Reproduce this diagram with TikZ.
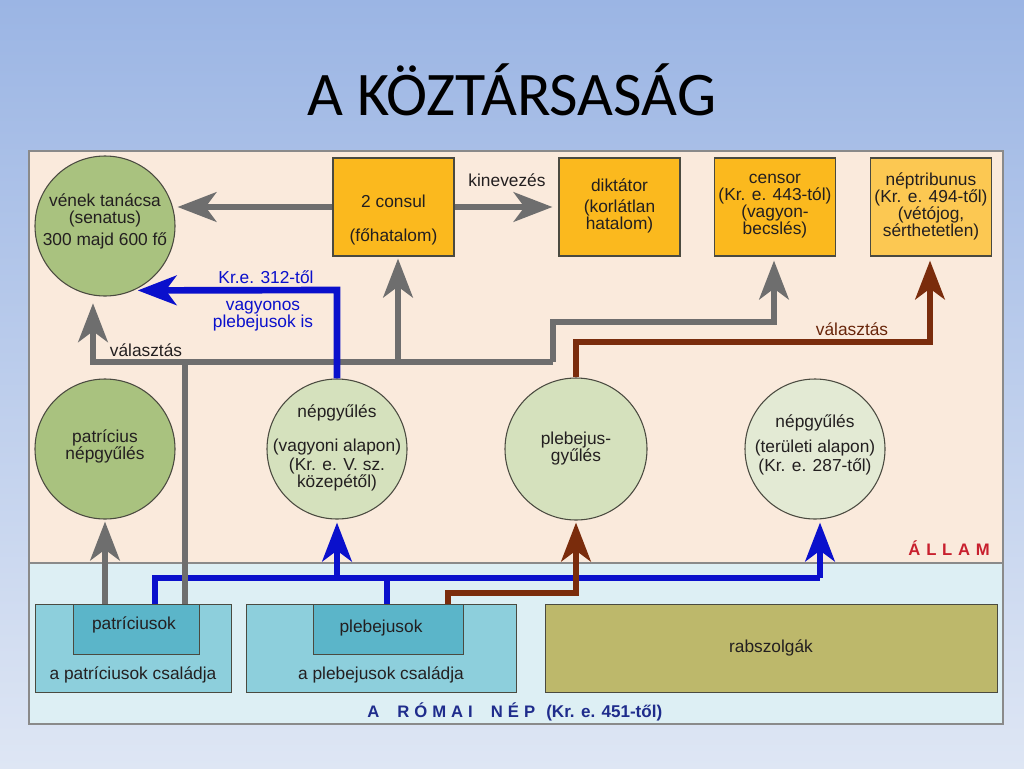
\documentclass[tikz,border=0pt]{standalone}
\usepackage{fontspec}
\setmainfont{Liberation Sans}
\newfontfamily\titlefont{Carlito}
\usetikzlibrary{arrows.meta}
\definecolor{bgtop}{RGB}{155,181,228}
\definecolor{bgbot}{RGB}{222,230,244}
\definecolor{peach}{HTML}{FAEADC}
\definecolor{lightb}{HTML}{DDEFF4}
\definecolor{panelc}{HTML}{8A8A8A}
\definecolor{outc}{HTML}{4A4A40}
\definecolor{txtc}{HTML}{231F20}
\definecolor{grayc}{HTML}{6E6E6E}
\definecolor{bluec}{HTML}{0A10CC}
\definecolor{brownc}{HTML}{7A2C0C}
\definecolor{amber}{HTML}{FBB91E}
\definecolor{amberlt}{HTML}{FCC852}
\definecolor{greendk}{HTML}{A9C27F}
\definecolor{greenlt}{HTML}{D5E1BD}
\definecolor{greenxl}{HTML}{E3EAD4}
\definecolor{tealo}{HTML}{8DCFDC}
\definecolor{teali}{HTML}{5BB5C9}
\definecolor{olive}{HTML}{BDB86B}
\definecolor{allamred}{HTML}{C8202E}
\definecolor{romblue}{HTML}{1F2C8C}
\newcommand\lsp{\hspace{3.75pt}}
\newcommand\wsp{\hspace{13.5pt}}
\newcommand\alsp{\hspace{4.3pt}}
\tikzset{
  txt/.style={font=\fontsize{13}{12.75}\selectfont, text=txtc, align=center, inner sep=0pt},
  circ/.style={circle, draw=outc, line width=0.8pt, minimum size=105pt, inner sep=0pt},
  obox/.style={draw=outc, line width=0.8pt, fill=amber, minimum width=90.75pt, minimum height=73.5pt, inner sep=0pt},
  fbox/.style={draw=outc, line width=0.7pt, inner sep=0pt},
  conn/.style={line width=5pt, line join=miter},
  ahead/.style={-{Stealth[length=29pt,width=22pt,inset=8pt]}},
  gline/.style={conn, draw=grayc},
  garr/.style={gline, ahead},
  bline/.style={conn, draw=bluec},
  barr/.style={bline, ahead},
  rline/.style={conn, draw=brownc},
  rarr/.style={rline, ahead},
}
\begin{document}
\begin{tikzpicture}[x=0.75pt,y=-0.75pt]
\useasboundingbox (0,0) rectangle (1024,768);
\shade[top color=bgtop, bottom color=bgbot] (0,0) rectangle (1024,768);

\node[font=\titlefont\fontsize{46.5}{50}\selectfont, anchor=base, text=black] (title) at (512,115) {A KÖZTÁRSASÁG};

% panel
\fill[peach] (29,151) rectangle (1003,563);
\fill[lightb] (29,563) rectangle (1003,724);
\draw[panelc, line width=0.8pt] (29,563) -- (1003,563);
\draw[panelc, line width=1.2pt] (29,151) rectangle (1003,724);

% top row
\node[circ, fill=greendk] (sen) at (105,226) {};
\node[txt] (senT) at (105,221.5) {vének tanácsa\\(senatus)\\[3.75pt]300 majd 600 fő};
\node[obox] (consul) at (393.5,207) {};
\node[txt] (consulT) at (393.5,220) {2 consul\\[12.75pt](főhatalom)};
\node[obox] (dikt) at (619.5,207) {};
\node[txt] (diktT) at (619.5,206) {diktátor\\[3pt](korlátlan\\hatalom)};
\node[obox] (censor) at (775,207) {};
\node[txt] (censorT) at (775,206) {censor\\(Kr. e. 443-tól)\\(vagyon-\\becslés)};
\node[obox, fill=amberlt] (neptr) at (931,207) {};
\node[txt] (neptrT) at (931,206) {néptribunus\\(Kr. e. 494-től)\\(vétójog,\\sérthetetlen)};

% middle row
\node[circ, fill=greendk] (pnp) at (105,449) {};
\node[txt] (pnpT) at (105,446) {patrícius\\népgyűlés};
\node[circ, fill=greenlt] (nv) at (337,449) {};
\node[txt] (nvT) at (337,448) {népgyűlés\\[12.75pt](vagyoni alapon)\\[1.5pt](Kr. e. V. sz.\\közepétől)};
\node[circ, fill=greenlt, minimum size=106.5pt] (pg) at (576,449) {};
\node[txt] (pgT) at (576,448.5) {plebejus-\\gyűlés};
\node[circ, fill=greenxl] (nt) at (815,449) {};
\node[txt] (ntT) at (815,445) {népgyűlés\\[6pt](területi alapon)\\[1.5pt](Kr. e. 287-től)};

% bottom boxes
\node[fbox, fill=tealo, minimum width=147pt, minimum height=66pt] (patfam) at (133,648) {};
\node[fbox, fill=teali, minimum width=94.5pt, minimum height=37.5pt] (patin) at (136,629) {};
\node[txt] (patinT) at (134,625) {patríciusok};
\node[txt] (patfamT) at (133,675) {a patríciusok családja};
\node[fbox, fill=tealo, minimum width=202.5pt, minimum height=66pt] (plebfam) at (381,648) {};
\node[fbox, fill=teali, minimum width=112.5pt, minimum height=37.5pt] (plebin) at (388,629) {};
\node[txt] (plebinT) at (381,628) {plebejusok};
\node[txt] (plebfamT) at (381,675) {a plebejusok családja};
\node[fbox, fill=olive, minimum width=339pt, minimum height=66pt] (rab) at (771,648) {};
\node[txt] (rabT) at (771,648) {rabszolgák};

% section labels
\node[anchor=base east, inner sep=0pt, text=allamred, font=\bfseries\fontsize{12.5}{12.5}\selectfont] (allam) at (990,555) {Á\alsp L\alsp L\alsp A\alsp M};
\node[anchor=base west, inner sep=0pt, text=romblue, font=\bfseries\fontsize{12.5}{12.5}\selectfont] (nep) at (367,717) {A\wsp R\lsp Ó\lsp M\lsp A\lsp I\wsp N\lsp É\lsp P};
\node[anchor=base west, inner sep=0pt, text=romblue, font=\bfseries\fontsize{12.8}{13}\selectfont] (nepdate) at (546,717) {(Kr. e. 451-től)};

% coordinates
\coordinate (g1) at (93,362);
\coordinate (g2) at (553,362);
\coordinate (g3) at (553,322);
\coordinate (g4) at (774,322);
\coordinate (gp) at (185,362);
\coordinate (gc) at (398,362);
\coordinate (b1) at (337,290);
\coordinate (bb1) at (155,578);
\coordinate (bb2) at (820,578);
\coordinate (bp) at (387,578);
\coordinate (r1) at (448,593);
\coordinate (r2) at (576,593);
\coordinate (r3) at (576,342);
\coordinate (r4) at (930,342);

% blue bus (below gray and brown)
\draw[bline] (bb1 |- patfam.north) -- (bb1) -- (bb2);
\draw[barr, shorten >=2.25pt] (bb2) -- (bb2 |- nt.south);
\draw[barr, shorten >=2.25pt] (bb1 -| nv.south) -- (nv.south);
\draw[bline] (bp |- plebin.north) -- (bp);

% gray
\draw[garr, shorten >=1.5pt] (consul.west) -- (sen.east |- consul.west);
\draw[garr, shorten >=4.5pt] (consul.east) -- (dikt.west);
\draw[garr, shorten >=5pt] (g2) -- (g1) -- (g1 |- sen.south);
\draw[gline] (gp |- patin.north) -- (gp);
\draw[garr, shorten >=1.5pt] (gc) -- (gc |- consul.south);
\draw[garr, shorten >=3pt] (g2) -- (g3) -- (g4) -- (g4 |- censor.south);
\draw[garr, shorten >=1.5pt] (pnp.south |- patin.north) -- (pnp.south);

% blue to senatus (over gray)
\draw[barr, shorten >=3pt] (nv.north) -- (b1) -- (sen.-66);

% brown
\draw[rarr, shorten >=1.5pt] (r1 |- plebin.north) -- (r1) -- (r2) -- (pg.south);
\draw[rarr, shorten >=3pt] (pg.north) -- (r3) -- (r4) -- (r4 |- neptr.south);

% connector labels
\node[txt] (kinev) at (507,180) {kinevezés};
\node[txt] (valg) at (146,350) {választás};
\node[txt, text=bluec] (kre) at (266,277) {Kr.e. 312-től};
\node[txt, text=bluec] (vagy) at (263,316) {vagyonos\\plebejusok is};
\node[txt, text=brownc!85!black] (valb) at (852,329) {választás};
\end{tikzpicture}
\end{document}
